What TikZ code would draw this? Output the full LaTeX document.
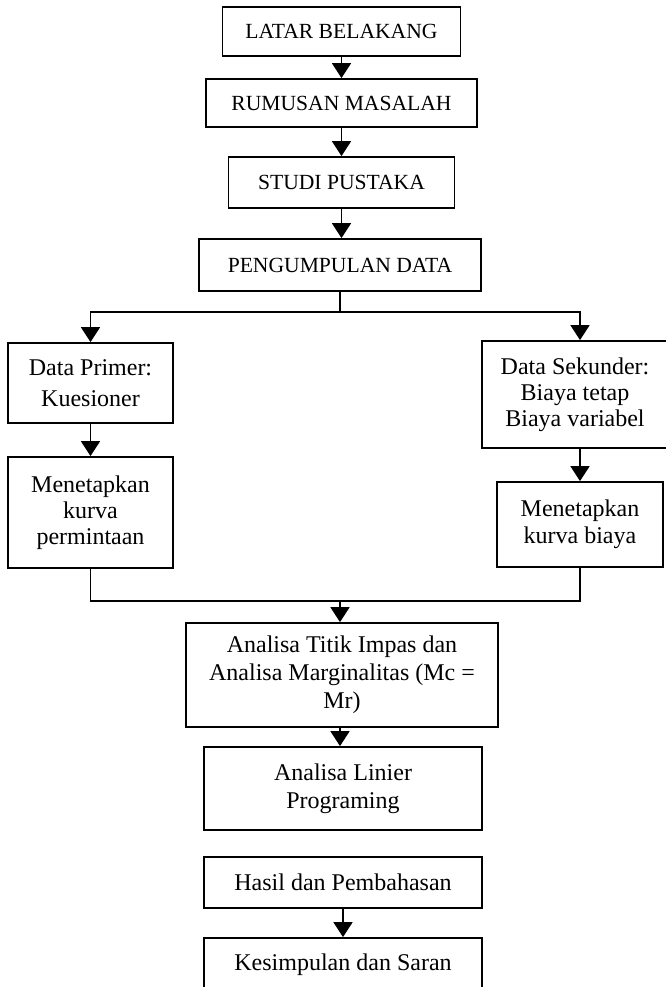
\documentclass[tikz,border=0pt]{standalone}
\usepackage{fontspec}
\setmainfont{Liberation Serif}
\usetikzlibrary{arrows.meta}

\begin{document}
\begin{tikzpicture}[x=1pt, y=-1pt]
    \tikzstyle{box} = [draw, line width=1.8pt, align=center, inner sep=0pt, font=\fontsize{24}{27}\selectfont]
    \tikzstyle{capsbox} = [box, font=\fontsize{21.6}{25}\selectfont]
    \tikzstyle{wire} = [line width=1.8pt]
    \tikzstyle{flow} = [wire, -{Triangle[length=15pt, width=19pt]}]
    \useasboundingbox (0, 0) rectangle (666, 987);
    % main column
    \node[capsbox, minimum width=238pt, minimum height=49pt] (latar) at (341.5, 31.5) {LATAR BELAKANG};
    \node[capsbox, minimum width=271pt, minimum height=48pt] (rumusan) at (341.5, 103) {RUMUSAN MASALAH};
    \node[capsbox, minimum width=226pt, minimum height=51pt] (studi) at (341.5, 182.5) {STUDI PUSTAKA};
    \node[capsbox, minimum width=282pt, minimum height=52pt] (kumpul) at (340, 265) {PENGUMPULAN DATA};
    % two branches
    \node[box, font=\fontsize{24}{31}\selectfont, minimum width=165pt, minimum height=80pt] (primer) at (90.5, 383) {Data Primer:\\Kuesioner};
    \node[box, font=\fontsize{24}{26}\selectfont, minimum width=165pt, minimum height=111pt] (kurvaA) at (90.5, 512.5) {Menetapkan\\kurva\\permintaan};
    \node[box, font=\fontsize{24}{26}\selectfont, minimum width=186pt, minimum height=107pt] (sekunder) at (575, 394.5) {Data Sekunder:\\Biaya tetap\\Biaya variabel};
    \node[box, font=\fontsize{24}{27}\selectfont, minimum width=166pt, minimum height=85pt] (kurvaB) at (580, 524.5) {Menetapkan\\kurva biaya};
    % analysis and end
    \node[box, font=\fontsize{24}{28}\selectfont, minimum width=312pt, minimum height=104pt] (impas) at (342, 675) {Analisa Titik Impas dan\\Analisa Marginalitas (Mc =\\Mr)};
    \node[box, font=\fontsize{24}{28}\selectfont, minimum width=278pt, minimum height=83pt] (linier) at (343, 788.5) {Analisa Linier\\Programing};
    \node[box, minimum width=278pt, minimum height=51pt] (hasil) at (343, 882.5) {Hasil dan Pembahasan};
    \node[box, minimum width=278pt, minimum height=54pt] (simpul) at (343, 965) {Kesimpulan dan Saran};
    \coordinate (fork) at (340, 312);
    \coordinate (merge) at (340, 601);
    \draw[flow] (latar.south) -- (rumusan.north);
    \draw[flow] (rumusan.south) -- (studi.north);
    \draw[flow] (studi.south) -- (studi.south |- kumpul.north);
    \draw[wire] (kumpul.south) -- (fork);
    \draw[flow] (fork) -| (primer.north);
    \draw[flow] (fork) -| (kurvaB.north |- sekunder.north);
    \draw[flow] (primer.south) -- (kurvaA.north);
    \draw[flow] (kurvaB.north |- sekunder.south) -- (kurvaB.north);
    \draw[wire] (kurvaA.south) |- (merge) -| (kurvaB.south);
    \draw[flow] (merge) -- (merge |- impas.north);
    \draw[flow] (merge |- impas.south) -- (merge |- linier.north);
    \draw[flow] (hasil.south) -- (simpul.north);
\end{tikzpicture}
\end{document}
